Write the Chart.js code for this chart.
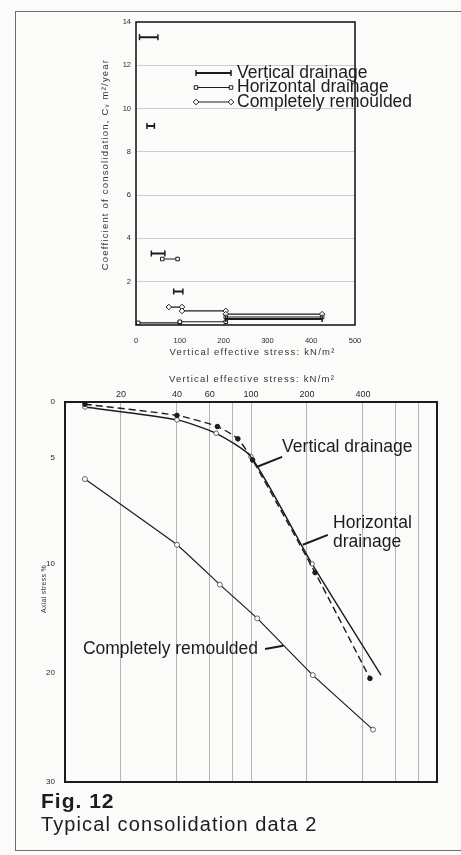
<!DOCTYPE html>
<html>
<head>
<meta charset="utf-8">
<script src="https://cdn.jsdelivr.net/npm/chart.js@4.4.1/dist/chart.umd.min.js"></script>
<style>
  html, body { margin: 0; padding: 0; background: #fbfbfa; }
  #page { position: relative; width: 461px; height: 855px; overflow: hidden;
          font-family: "Liberation Sans", Arial, sans-serif; color: #1d1d1d; }
  #frame { position: absolute; left: 15px; top: 11px; width: 460px; height: 838px;
           border: 1.5px solid #6d6d6d; border-right: none; }
  canvas { position: absolute; left: 0; }
  #cvChart { top: 0; }
  #strainChart { top: 355px; }
  .fig { position: absolute; left: 41px; top: 790px; font-size: 21px; line-height: 1;
         font-weight: bold; letter-spacing: 1px; }
  .caption { position: absolute; left: 41px; top: 814px; font-size: 20px; line-height: 1; letter-spacing: 1.1px; }
</style>
</head>
<body>
<div id="page">
  <div id="frame"></div>
  <canvas id="cvChart" width="461" height="365"></canvas>
  <canvas id="strainChart" width="461" height="440"></canvas>
  <div class="fig">Fig. 12</div>
  <div class="caption">Typical consolidation data 2</div>
</div>
<script>
// cv for each load increment: [from, to] stress in kN/m2, value in m2/year
const vertFrom = [8, 25, 35, 86, 205];
const vertTo = [50, 42, 66, 107, 425];
const vertCv = [13.3, 9.2, 3.3, 1.55, 0.28];
const horzFrom = [60, 5, 100, 205];
const horzTo = [95, 100, 205, 425];
const horzCv = [3.05, 0.1, 0.15, 0.37];
const remFrom = [75, 105, 205];
const remTo = [105, 205, 425];
const remCv = [0.83, 0.65, 0.5];

// compression curves: stress kN/m2 (log) against axial strain %
const vertStress = [12.8, 40, 66, 85, 102, 221, 436];
const vertStrain = [0.2, 1.2, 2.2, 3.3, 5.1, 10.8, 20.5];
const horzStress = [12.8, 40, 65, 100, 213, 500];
const horzStrain = [0.45, 1.6, 2.8, 4.9, 10.0, 20.2];
const remStress = [12.8, 40, 68, 108, 215, 453];
const remStrain = [6.0, 9.1, 11.9, 15.0, 20.2, 25.2];

const stressLabels = [20, 40, 60, 100, 200, 400];
const stressGrid = [20, 40, 60, 80, 100, 200, 400, 600, 800];
const strainTicks = [0, 5, 10, 20, 30];

const ink = '#1c1c1c';
const FONT = "'Liberation Sans', Arial, Helvetica, sans-serif";
Chart.defaults.font.family = FONT;
Chart.defaults.color = '#2a2a2a';
Chart.defaults.animation = false;

// the printed strain axis is not evenly spaced; stops = [strain, fraction down the axis]
const strainStops = [[0, 0], [5, 0.147], [10, 0.426], [20, 0.713], [30, 1]];

class StrainScale extends Chart.LinearScale {
  static id = 'strain';
  static defaults = Chart.LinearScale.defaults;
  getPixelForValue(value) {
    if (value === null || isNaN(value)) return NaN;
    let f = 1;
    for (let i = 1; i < strainStops.length; i++) {
      const [v0, f0] = strainStops[i - 1], [v1, f1] = strainStops[i];
      if (value <= v1 || i === strainStops.length - 1) {
        f = f0 + (value - v0) / (v1 - v0) * (f1 - f0);
        break;
      }
    }
    return this.top + f * (this.bottom - this.top);
  }
  getValueForPixel(pixel) {
    const f = (pixel - this.top) / (this.bottom - this.top);
    for (let i = 1; i < strainStops.length; i++) {
      const [v0, f0] = strainStops[i - 1], [v1, f1] = strainStops[i];
      if (f <= f1 || i === strainStops.length - 1) return v0 + (f - f0) / (f1 - f0) * (v1 - v0);
    }
  }
}
Chart.register(StrainScale);

function segments(from, to, cv) {
  const pts = [];
  from.forEach((x0, i) => {
    pts.push({ x: x0, y: cv[i] }, { x: to[i], y: cv[i] }, { x: to[i], y: null });
  });
  return pts;
}
function curve(xs, ys) {
  return xs.map((x, i) => ({ x: x, y: ys[i] }));
}

const frame = {
  id: 'frame',
  afterDatasetsDraw(chart, args, opts) {
    const { ctx, chartArea: a } = chart;
    ctx.save();
    ctx.strokeStyle = ink;
    ctx.lineWidth = opts.width;
    ctx.strokeRect(a.left, a.top, a.right - a.left, a.bottom - a.top);
    ctx.restore();
  }
};

// spaced-out axis captions, as set in the printed figure
const axisTitles = {
  id: 'axisTitles',
  afterDraw(chart, args, opts) {
    const { ctx, chartArea: a } = chart;
    const cx = (a.left + a.right) / 2, cy = (a.top + a.bottom) / 2;
    ctx.save();
    ctx.fillStyle = '#333';
    ctx.textAlign = 'center';
    ctx.textBaseline = 'middle';
    ctx.font = opts.size + 'px ' + FONT;
    ctx.letterSpacing = opts.spacing + 'px';
    const xy = opts.xBelow ? a.bottom + opts.xGap : a.top - opts.xGap;
    ctx.fillText(opts.xText, cx + opts.xShift, xy);
    ctx.font = opts.ySize + 'px ' + FONT;
    ctx.letterSpacing = opts.ySpacing + 'px';
    ctx.translate(a.left - opts.yGap, cy + opts.yShift);
    ctx.rotate(-Math.PI / 2);
    ctx.fillText(opts.yText, 0, 0);
    ctx.restore();
  }
};

const cvKey = {
  id: 'cvKey',
  afterDraw(chart) {
    const { ctx, chartArea: a } = chart;
    ctx.save();
    ctx.font = '17.5px ' + FONT;
    ctx.textBaseline = 'middle';
    chart.data.datasets.forEach((ds, i) => {
      const y = a.top + 51 + i * 14.5;
      const x0 = a.left + 60, x1 = a.left + 95;
      ctx.strokeStyle = ds.borderColor;
      ctx.lineWidth = ds.borderWidth;
      ctx.beginPath(); ctx.moveTo(x0, y); ctx.lineTo(x1, y); ctx.stroke();
      ctx.fillStyle = ds.pointBackgroundColor;
      ctx.lineWidth = ds.pointBorderWidth;
      [x0, x1].forEach(x => Chart.helpers.drawPoint(ctx, {
        pointStyle: ds.pointStyle, rotation: ds.pointRotation || 0,
        radius: ds.pointRadius, borderWidth: ds.pointBorderWidth
      }, x, y));
      ctx.fillStyle = ink;
      ctx.fillText(ds.label, a.left + 101, y);
    });
    ctx.restore();
  }
};

new Chart(document.getElementById('cvChart'), {
  type: 'line',
  data: {
    datasets: [
      { label: 'Vertical drainage', data: segments(vertFrom, vertTo, vertCv),
        borderColor: ink, borderWidth: 2, pointStyle: 'line', pointRotation: 90,
        pointRadius: 3, pointBorderWidth: 1.5, pointBackgroundColor: ink },
      { label: 'Horizontal drainage', data: segments(horzFrom, horzTo, horzCv),
        borderColor: ink, borderWidth: 1.2, pointStyle: 'rect',
        pointRadius: 2.5, pointBorderWidth: 1, pointBackgroundColor: '#fff' },
      { label: 'Completely remoulded', data: segments(remFrom, remTo, remCv),
        borderColor: ink, borderWidth: 1.2, pointStyle: 'rectRot',
        pointRadius: 2.8, pointBorderWidth: 1, pointBackgroundColor: '#fff' }
    ]
  },
  options: {
    responsive: false,
    devicePixelRatio: 1,
    spanGaps: false,
    layout: { padding: { left: 0, top: 22, right: 106, bottom: 0 } },
    scales: {
      x: {
        type: 'linear', min: 0, max: 500,
        ticks: { stepSize: 100, padding: 3, font: { size: 7.5 } },
        grid: { display: false },
        border: { display: false },
        afterFit: s => { s.height = 40; }
      },
      y: {
        min: 0, max: 14,
        ticks: { stepSize: 2, padding: 5, font: { size: 7.5 }, callback: v => v === 0 ? '' : v },
        grid: { drawTicks: false, color: c => c.tick.value % 14 === 0 ? 'rgba(0,0,0,0)' : '#cdcdcd' },
        border: { display: false },
        afterFit: s => { s.width = 136; }
      }
    },
    plugins: {
      legend: { display: false },
      tooltip: { enabled: false },
      frame: { width: 1.6 },
      axisTitles: {
        size: 9.5, spacing: 1.2, ySize: 9.5, ySpacing: 1.2,
        xText: 'Vertical effective stress: kN/m²', xBelow: true, xGap: 27, xShift: 7,
        yText: 'Coefficient of consolidation, Cᵥ m²/year', yGap: 31, yShift: -9
      }
    }
  },
  plugins: [frame, axisTitles, cvKey]
});

// labels with short leader strokes, placed in stress/strain units
const callouts = [
  { lines: ['Vertical drainage'], at: [147, 4.0], align: 'left', leader: [[108, 5.42], [147, 4.91]] },
  { lines: ['Horizontal', 'drainage'], at: [276, 8.07], align: 'left', leader: [[190, 9.1], [259, 8.63]] },
  { lines: ['Completely remoulded'], at: [109, 17.8], align: 'right', leader: [[119, 17.8], [149, 17.5]] }
];

const calloutPlugin = {
  id: 'callouts',
  afterDraw(chart) {
    const { ctx, scales: { x, y } } = chart;
    ctx.save();
    ctx.font = '17.5px ' + FONT;
    ctx.textBaseline = 'middle';
    ctx.fillStyle = ink;
    ctx.strokeStyle = ink;
    ctx.lineWidth = 2;
    callouts.forEach(c => {
      const px = x.getPixelForValue(c.at[0]), py = y.getPixelForValue(c.at[1]);
      ctx.textAlign = c.align;
      c.lines.forEach((t, i) => ctx.fillText(t, px, py + i * 19));
      const [p, q] = c.leader;
      ctx.beginPath();
      ctx.moveTo(x.getPixelForValue(p[0]), y.getPixelForValue(p[1]));
      ctx.lineTo(x.getPixelForValue(q[0]), y.getPixelForValue(q[1]));
      ctx.stroke();
    });
    ctx.restore();
  }
};

new Chart(document.getElementById('strainChart'), {
  type: 'line',
  data: {
    datasets: [
      { label: 'Vertical drainage', data: curve(vertStress, vertStrain),
        borderColor: ink, borderWidth: 1.4, borderDash: [7, 4], tension: 0.2,
        pointRadius: 2.3, pointBorderWidth: 1, pointBackgroundColor: ink, pointBorderColor: ink },
      { label: 'Horizontal drainage', data: curve(horzStress, horzStrain),
        borderColor: ink, borderWidth: 1.4, tension: 0.2,
        pointRadius: horzStress.map((v, i) => i === horzStress.length - 1 ? 0 : 2.3),
        pointBorderWidth: 0.9, pointBackgroundColor: '#fff', pointBorderColor: '#555' },
      { label: 'Completely remoulded', data: curve(remStress, remStrain),
        borderColor: ink, borderWidth: 1.2, tension: 0.1,
        pointRadius: 2.5, pointBorderWidth: 0.9, pointBackgroundColor: '#fff', pointBorderColor: '#555' }
    ]
  },
  options: {
    responsive: false,
    devicePixelRatio: 1,
    layout: { padding: { left: 0, top: 0, right: 24, bottom: 13 } },
    scales: {
      x: {
        type: 'logarithmic', position: 'top', min: 10, max: 1000,
        afterBuildTicks: s => { s.ticks = stressGrid.map(v => ({ value: v })); },
        ticks: { autoSkip: false, maxRotation: 0, padding: 2, font: { size: 9 },
                 callback: v => stressLabels.includes(v) ? String(v) : '' },
        grid: { drawTicks: false, color: '#b4b4b4', lineWidth: 1 },
        border: { display: false },
        afterFit: s => { s.height = 47; }
      },
      y: {
        type: 'strain', min: 0, max: 30,
        afterBuildTicks: s => { s.ticks = strainTicks.map(v => ({ value: v })); },
        ticks: { padding: 2, font: { size: 8 } },
        grid: { display: false },
        border: { display: false },
        afterFit: s => { s.width = 65; }
      }
    },
    plugins: {
      legend: { display: false },
      tooltip: { enabled: false },
      frame: { width: 2 },
      axisTitles: {
        size: 9.5, spacing: 1.2, ySize: 7, ySpacing: 0.3,
        xText: 'Vertical effective stress: kN/m²', xBelow: false, xGap: 23, xShift: 1,
        yText: 'Axial stress %', yGap: 21, yShift: -3
      }
    }
  },
  plugins: [frame, axisTitles, calloutPlugin]
});
</script>
</body>
</html>
